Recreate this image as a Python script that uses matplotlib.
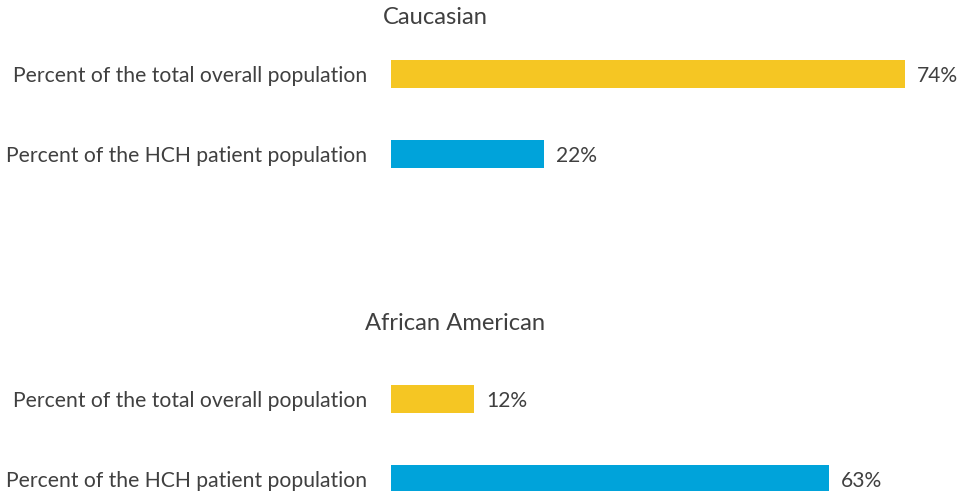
import matplotlib
matplotlib.use("Agg")
import matplotlib.pyplot as plt

groups = ["Caucasian", "African American"]
categories = ["Percent of the total overall population", "Percent of the HCH patient population"]
values = [[74, 22], [12, 63]]
colors = ["#F5C623", "#00A3DA"]
TEXT = "#404040"

W, H = 974, 491
plt.rcParams['font.family'] = ['Lato', 'DejaVu Sans']
fig = plt.figure(figsize=(W / 100, H / 100), dpi=100)
fig.patch.set_facecolor("white")
renderer = fig.canvas.get_renderer()


def fit_size(text, target_px, base=12):
    t = fig.text(0, 0, text, fontsize=base)
    w = t.get_window_extent(renderer).width
    t.remove()
    return base * target_px / w


label_fs = fit_size(categories[0], 354)
title_fs = fit_size("Caucasian", 105)
val_fs = fit_size("74%", 41)

px_per_pct = 6.946
ax_left = 391
xmax = (W - ax_left) / px_per_pct

ax_spans = [(34, 194), (358.5, 519.5)]
title_pos = [(435, 18), (455, 323)]

for gi, (g, vals) in enumerate(zip(groups, values)):
    top, bot = ax_spans[gi]
    ax = fig.add_axes([ax_left / W, 1 - bot / H, (W - ax_left) / W, (bot - top) / H])
    ax.barh(range(len(categories)), vals, height=0.35, color=colors, zorder=2)
    ax.set_xlim(0, xmax)
    ax.set_ylim(1.5, -0.5)
    ax.set_yticks(range(len(categories)))
    ax.set_yticklabels(categories, fontsize=label_fs, color=TEXT)
    ax.tick_params(axis='y', length=0, pad=17)
    ax.set_xticks([])
    for s in ax.spines.values():
        s.set_visible(False)
    ax.patch.set_alpha(0)
    for i, v in enumerate(vals):
        ax.annotate(f"{v}%", (v, i), xytext=(12, -2), textcoords="offset pixels",
                    va="center", ha="left", fontsize=val_fs, color=TEXT)
    tx, ty = title_pos[gi]
    fig.text(tx / W, 1 - ty / H, g, ha="center", va="center", fontsize=title_fs, color=TEXT)

fig.savefig("out.png", dpi=100, facecolor="white")
